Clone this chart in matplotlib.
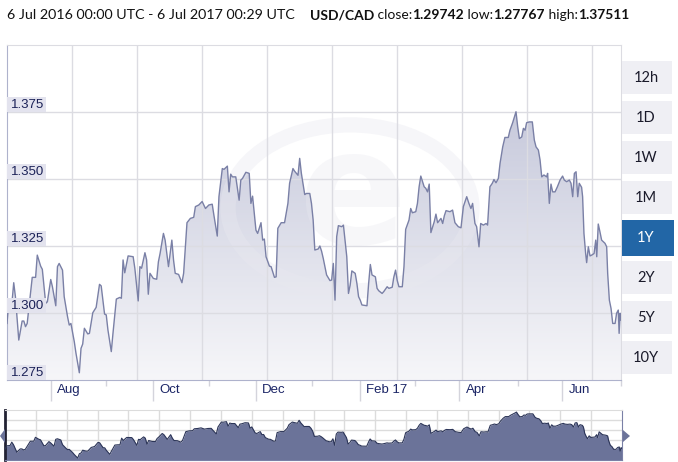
import matplotlib
matplotlib.use('Agg')
import matplotlib.pyplot as plt
import matplotlib.dates as mdates
from matplotlib.colors import LinearSegmentedColormap
from matplotlib.patches import Rectangle, Circle, Polygon
from matplotlib.transforms import blended_transform_factory
import numpy as np
from datetime import datetime, timedelta

# USD/CAD, 6 Jul 2016 - 6 Jul 2017 (days since start, rate)
day_offset = [
    0, 1, 3, 4, 5, 7, 9, 10, 11, 12, 14, 15, 17, 18, 20, 21, 23, 24, 26, 27,
    29, 30, 31, 33, 34, 36, 37, 38, 40, 41, 43, 44, 45, 46, 48, 49, 51, 53, 55, 56,
    58, 59, 60, 62, 63, 65, 67, 68, 69, 70, 72, 75, 76, 78, 79, 80, 82, 83, 84, 85,
    87, 89, 90, 91, 93, 94, 96, 98, 99, 100, 102, 104, 105, 107, 109, 111, 112, 114, 116, 118,
    120, 122, 123, 125, 126, 128, 129, 131, 132,
    133, 134, 136, 138, 139, 140, 142, 144, 145, 146, 148, 149, 151, 152, 153, 154, 156, 157, 159, 160,
    161, 163, 165, 166, 167, 168, 170, 171, 173, 174, 175, 177, 178, 180, 181, 182, 183, 185, 186, 187,
    188, 190, 192, 193, 194, 195, 196, 197, 199, 200, 202, 203, 204, 205, 207, 208, 209, 210, 211, 214,
    215, 216, 217, 219, 220, 221, 223, 224, 226, 227, 229, 230, 231, 232, 233, 235, 236, 237, 239, 240,
    241, 243, 244, 245, 246, 248, 249, 250, 251, 252, 254, 255, 256, 258, 259, 260, 261,
    263.3, 264.9, 266.3, 268.3, 269.9, 271.3, 273.3, 274.6, 275.8, 276.8,
    278.2, 279.2, 280.6, 281.6, 283.2, 284.8, 285.7, 287.1, 288.5, 289.5,
    290.7, 292.1, 293.1, 294.7, 296.0, 298.0, 299.0, 300.6, 301.6, 302.6,
    303.6, 304.6, 306.0, 307.0, 308.0, 308.9, 310.5, 312.3, 313.5, 314.5,
    315.9, 316.9, 317.9, 319.2, 320.8, 321.4, 322.4, 323.4, 324.4, 325.8,
    327.2, 328.8, 330.3, 331.3, 332.7, 334.3, 335.3, 336.3, 337.3, 338.3,
    339.3, 340.2, 341.6, 342.2, 343.0, 344.0, 344.6, 345.6, 346.6, 347.6,
    349.0, 350.0, 350.6, 351.5, 352.5, 353.5, 354.5, 355.5, 356.5, 357.1,
    358.1, 359.1, 360.1, 361.5, 362.4, 363.4, 363.9, 364.5, 365.0,
]
usdcad = [
    1.2961, 1.3036, 1.3042, 1.3113, 1.3061, 1.2899, 1.2970, 1.2970, 1.2949, 1.2961,
    1.3077, 1.3133, 1.3133, 1.3216, 1.3175, 1.3163, 1.3036, 1.3042, 1.3125, 1.3098,
    1.3027, 1.3173, 1.3185, 1.3160, 1.3061, 1.2986, 1.2955, 1.2961, 1.2893, 1.2850,
    1.2777, 1.2868, 1.2884, 1.2943, 1.2922, 1.2924, 1.3001, 1.3021, 1.3107, 1.3101,
    1.2996, 1.2993, 1.2937, 1.2856, 1.2924, 1.3052, 1.3058, 1.3055, 1.3198, 1.3150,
    1.3213, 1.3210, 1.3167, 1.3045, 1.3173, 1.3167, 1.3225, 1.3198, 1.3070, 1.3148,
    1.3129, 1.3126, 1.3191, 1.3222, 1.3297, 1.3272, 1.3173, 1.3272, 1.3198, 1.3148,
    1.3144, 1.3113, 1.3148, 1.3337, 1.3353, 1.3357, 1.3397, 1.3403, 1.3416, 1.3390,
    1.3403, 1.3406, 1.3365, 1.3287, 1.3434, 1.3539, 1.3536, 1.3548, 1.3452,
    1.3518, 1.3508, 1.3508, 1.3421, 1.3496, 1.3502, 1.3525, 1.3521, 1.3409, 1.3436,
    1.3309, 1.3297, 1.3337, 1.3272, 1.3276, 1.3210, 1.3175, 1.3173, 1.3133, 1.3135,
    1.3316, 1.3337, 1.3337, 1.3372, 1.3409, 1.3484, 1.3539, 1.3529, 1.3514, 1.3577,
    1.3521, 1.3442, 1.3446, 1.3446, 1.3409, 1.3347, 1.3235, 1.3239, 1.3250, 1.3231,
    1.3204, 1.3142, 1.3121, 1.3123, 1.3185, 1.3048, 1.3285, 1.3326, 1.3322, 1.3328,
    1.3210, 1.3073, 1.3104, 1.3157, 1.3148, 1.3111, 1.3061, 1.3048, 1.3030, 1.3027,
    1.3111, 1.3181, 1.3142, 1.3135, 1.3092, 1.3083, 1.3073, 1.3080, 1.3098, 1.3092,
    1.3096, 1.3135, 1.3160, 1.3121, 1.3098, 1.3098, 1.3173, 1.3312, 1.3347, 1.3390,
    1.3374, 1.3378, 1.3409, 1.3471, 1.3511, 1.3471, 1.3465, 1.3452, 1.3481, 1.3300,
    1.3341, 1.3369, 1.3337, 1.3353, 1.3334, 1.3363, 1.3382,
    1.3378, 1.3384, 1.3337, 1.3322, 1.3318, 1.3397, 1.3434, 1.3409, 1.3390, 1.3409,
    1.3334, 1.3322, 1.3247, 1.3334, 1.3328, 1.3334, 1.3328, 1.3471, 1.3484, 1.3498,
    1.3486, 1.3502, 1.3558, 1.3620, 1.3655, 1.3655, 1.3682, 1.3710, 1.3730, 1.3751,
    1.3695, 1.3651, 1.3657, 1.3689, 1.3682, 1.3710, 1.3713, 1.3713, 1.3645, 1.3620,
    1.3608, 1.3571, 1.3508, 1.3515, 1.3508, 1.3521, 1.3409, 1.3481, 1.3452, 1.3452,
    1.3471, 1.3496, 1.3511, 1.3496, 1.3490, 1.3496, 1.3484, 1.3434, 1.3521, 1.3527,
    1.3434, 1.3484, 1.3469, 1.3434, 1.3297, 1.3222, 1.3188, 1.3247, 1.3213, 1.3216,
    1.3222, 1.3272, 1.3210, 1.3332, 1.3303, 1.3272, 1.3266, 1.3260, 1.3247, 1.3148,
    1.3048, 1.3017, 1.2961, 1.2961, 1.2999, 1.3011, 1.2924, 1.2999, 1.2974,
]

y_ticks = [1.275, 1.300, 1.325, 1.350, 1.375]
month_labels = ['Aug', 'Oct', 'Dec', 'Feb 17', 'Apr', 'Jun']
month_dates = [datetime(2016, 8, 1), datetime(2016, 10, 1), datetime(2016, 12, 1),
               datetime(2017, 2, 1), datetime(2017, 4, 1), datetime(2017, 6, 1)]
ranges = ['12h', '1D', '1W', '1M', '1Y', '2Y', '5Y', '10Y']
selected = '1Y'

W, H = 678, 462


def fx(px):
    return px / W


def fy(py):
    return 1 - py / H


t0 = datetime(2016, 7, 6)
t1 = datetime(2017, 7, 6, 0, 29)
x0, x1 = mdates.date2num(t0), mdates.date2num(t1)
x = [mdates.date2num(t0 + timedelta(days=d)) for d in day_offset]

fig = plt.figure(figsize=(6.78, 4.62), dpi=100)
fig.patch.set_facecolor('white')

# ---- main chart
ax = fig.add_axes([fx(7), fy(380), 614 / W, 335 / H])
ax.set_xlim(x0, x1)
ax.set_ylim(1.275, 1.400)
ax.set_facecolor('white')

grad = np.linspace(0, 1, 256).reshape(-1, 1)
cmap = LinearSegmentedColormap.from_list('fillgrad', ['#f6f6f9', '#bcbfd5'])
img = ax.imshow(grad, extent=[x0, x1, 1.275, 1.400], origin='lower',
                aspect='auto', cmap=cmap, zorder=1)
poly = ax.fill_between(x, usdcad, 1.275, facecolor='none', edgecolor='none')
img.set_clip_path(poly.get_paths()[0], ax.transData)

# faint logo watermark
wm = Circle((fx(350), fy(208)), radius=122 / W, transform=fig.transFigure,
            fill=False, ec='#e9e9f0', lw=11, alpha=0.4, zorder=2)
ax.add_artist(wm)
ax.text(fx(352), fy(200), 'e', transform=fig.transFigure, fontsize=115,
        fontweight='bold', family='DejaVu Sans', color='#e9e9f0', alpha=0.35,
        ha='center', va='center', zorder=2)

for v in y_ticks[1:]:
    ax.axhline(v, color='#dcdce2', lw=1, zorder=2.5)
span = x1 - x0
for k in range(1, 10):
    ax.axvline(x0 + span * k * 65 / 614, color='#dcdce2', lw=1, zorder=2.5)

ax.plot(x, usdcad, color='#7a80a6', lw=1.0, zorder=4)

trans = blended_transform_factory(ax.transAxes, ax.transData)
for v in y_ticks:
    ax.add_patch(Rectangle((0, v), 39 / 614, 0.0056, transform=trans,
                           facecolor='#e3e3ee', edgecolor='none', zorder=5))
    ax.text(4 / 614, v + 0.0027, f'{v:.3f}', transform=trans, ha='left',
            va='center', fontsize=9.5, family='Liberation Sans', color='#1b2157',
            zorder=6)

ax.set_yticks([])
ax.set_xticks([mdates.date2num(d) for d in month_dates])
ax.set_xticklabels([])
ax.set_xticks([x1 - k * 103 / 614 * span for k in range(6)], minor=True)
ax.tick_params(axis='x', which='major', length=15, width=1, color='#d4d4dc')
ax.tick_params(axis='x', which='minor', length=4, width=1, color='#d4d4dc')
for d, lab in zip(month_dates, month_labels):
    ax.annotate(lab, xy=(mdates.date2num(d), 0), xycoords=('data', 'axes fraction'),
                xytext=(4.5, -7.5), textcoords='offset points', ha='left',
                va='center', fontsize=9.5, family='Liberation Sans', color='#1b2566')

for s in ['left', 'bottom']:
    ax.spines[s].set_color('#aeb2cc')
for s in ['top', 'right']:
    ax.spines[s].set_color('#dcdce2')

# ---- range buttons
for i, r in enumerate(ranges):
    top = 61 + 40 * i
    if r == selected:
        fig.patches.append(Rectangle((fx(622), fy(top + 35)), 52 / W, 36 / H,
                                     transform=fig.transFigure, facecolor='#2266a6',
                                     edgecolor='none'))
        tc = 'white'
    else:
        fig.patches.append(Rectangle((fx(622), fy(top + 33)), 50 / W, 33 / H,
                                     transform=fig.transFigure, facecolor='#efeff4',
                                     edgecolor='none'))
        tc = '#1a1a2a'
    fig.text(fx(646), fy(top + 17), r, ha='center', va='center', fontsize=10.5,
             family='Lato', color=tc)

# ---- navigator
nav = fig.add_axes([fx(5), fy(460), 617 / W, 50 / H])
nav.set_xlim(x0, x1)
nav.set_ylim(1.2735, 1.3795)
nav.fill_between(x, usdcad, 1.2735, color='#6b7399', lw=0, zorder=2)
nav.plot(x, usdcad, color='#2c3558', lw=0.8, zorder=3)
for k in range(1, 20):
    nav.axvline(x0 + span * k / 20, color='#dcdcdc', lw=1, zorder=1)
for k in range(1, 5):
    nav.axhline(1.2735 + 0.106 * k / 5, color='#dcdcdc', lw=1, zorder=1)
nav.set_xticks([])
nav.set_yticks([])
nav.spines['left'].set_color('#222233')
nav.spines['left'].set_linewidth(2)
for s in ['bottom', 'right']:
    nav.spines[s].set_color('#7a80a6')
nav.spines['top'].set_color('#dcdcdc')
fig.patches.append(Polygon([(fx(0), fy(436)), (fx(5), fy(429)), (fx(5), fy(443))],
                           closed=True, transform=fig.transFigure,
                           facecolor='#6b7399', edgecolor='none'))
fig.patches.append(Polygon([(fx(630), fy(436)), (fx(623), fy(430)), (fx(623), fy(442))],
                           closed=True, transform=fig.transFigure,
                           facecolor='#6b7399', edgecolor='none'))

# ---- header
fig.text(fx(7), fy(15), '6 Jul 2016 00:00 UTC - 6 Jul 2017 00:29 UTC',
         ha='left', va='center', fontsize=10.3, family='Lato', color='#111111')
pieces = [('USD/CAD', 'bold'), (' close:', 'normal'), ('1.29742', 'bold'),
          (' low:', 'normal'), ('1.27767', 'bold'), (' high:', 'normal'),
          ('1.37511', 'bold')]
renderer = fig.canvas.get_renderer()
xpos = 310
for txt, wt in pieces:
    t = fig.text(fx(xpos), fy(15), txt, ha='left', va='center', fontsize=10,
                 family='Lato', fontweight=wt, color='#111111')
    bb = t.get_window_extent(renderer)
    xpos += bb.width

fig.savefig('out.png', dpi=100, facecolor='white')
